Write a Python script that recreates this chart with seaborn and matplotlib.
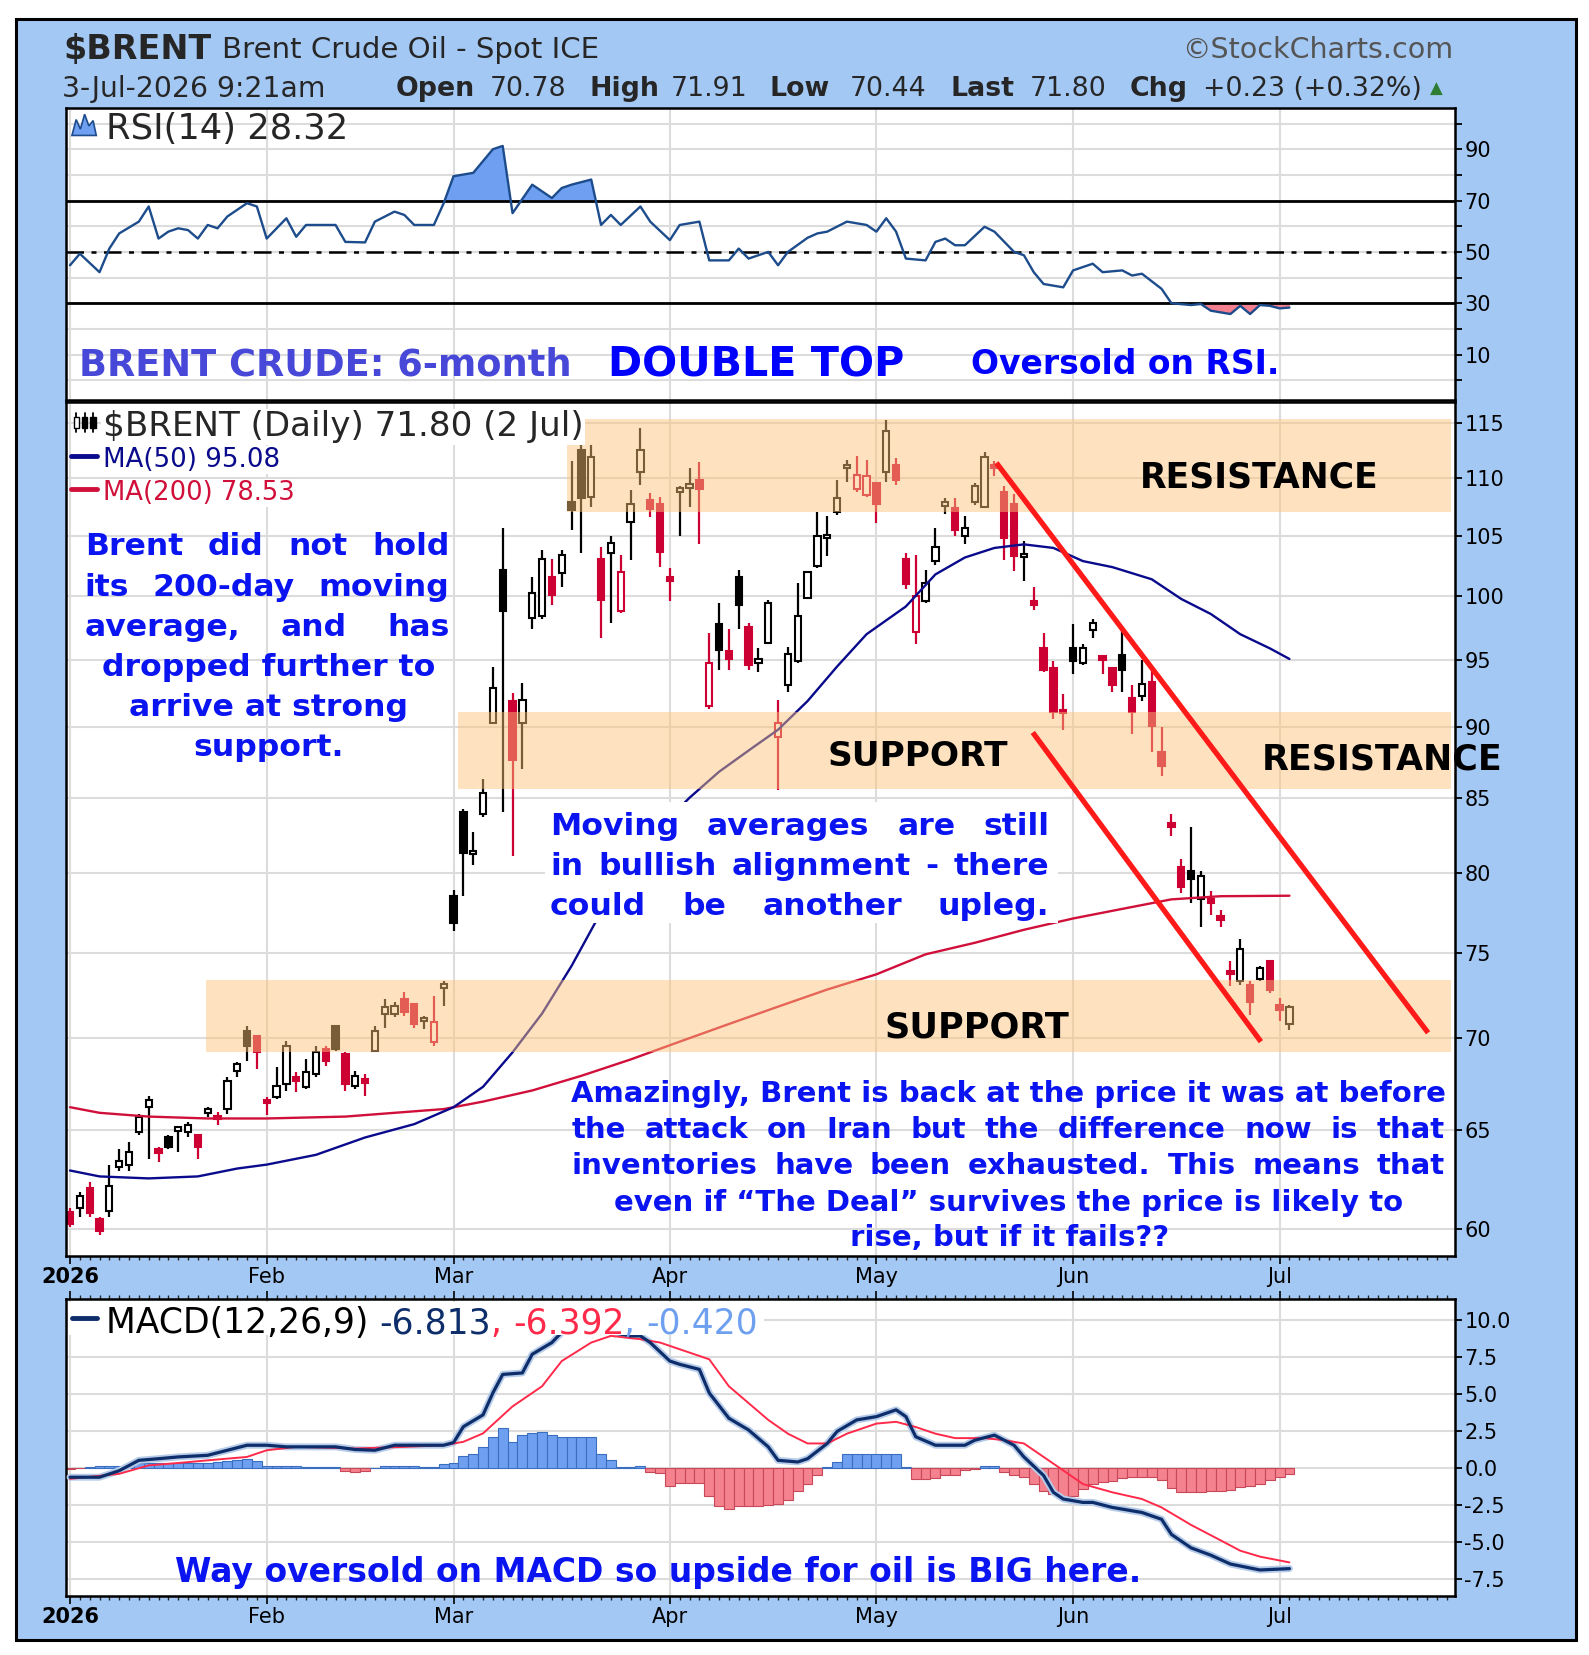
import numpy as np
import pandas as pd
import matplotlib
matplotlib.use("Agg")
import matplotlib.pyplot as plt
import seaborn as sns
from matplotlib.patches import Rectangle, Polygon
from matplotlib.lines import Line2D
from matplotlib.ticker import FixedLocator, FuncFormatter, NullLocator
from matplotlib.font_manager import FontProperties, findfont

# ============================ DATA ============================
month_labels = ["2026", "Feb", "Mar", "Apr", "May", "Jun", "Jul"]
month_start_idx = [0, 20, 39, 61, 82, 102, 123]   # trading-day index of month start

prev_close = 60.9   # close of the session before the first candle

open_px = [60.85, 61.0, 62.0, 60.5, 60.9, 63.07, 63.16, 64.88, 66.21, 63.95,
           64.62, 64.95, 64.88, 64.71, 65.88, 65.70, 66.12, 68.18, 70.41, 70.13,
           66.60, 66.74, 67.45, 67.81, 67.27, 67.99, 69.38, 70.70, 69.10, 67.36,
           67.72, 69.29, 71.37, 71.37, 72.24, 71.95, 70.95, 69.76, 72.90, 78.5,
           84.0, 81.2, 83.9, 90.3, 102.2, 91.9, 90.3, 98.3, 98.4, 101.6,
           101.9, 107.9, 112.6, 108.4, 103.1, 103.6, 98.8, 106.2, 110.6, 108.1,
           107.8, 101.6, 108.8, 109.2, 109.9, 91.5, 97.8, 95.7, 101.6, 97.6,
           94.8, 96.3, 89.3, 93.1, 94.9, 99.9, 102.5, 104.8, 107.1, 110.9,
           109.1, 108.5, 109.6, 110.6, 111.2, 103.1, 97.2, 99.6, 102.9, 107.6,
           107.4, 105.0, 107.9, 107.5, 111.2, 108.8, 107.8, 103.2, 99.6, 95.9,
           94.4, 91.2, 95.9, 94.8, 97.3, 95.1, 94.4, 95.4, 92.1, 92.3,
           93.3, 88.2, 83.2, 80.4, 80.1, 78.3, 78.3, 77.2, 73.9, 73.3,
           73.05, 73.45, 74.5, 71.9, 70.78]
high_px = [61.0, 61.8, 62.3, 60.6, 63.2, 64.0, 64.36, 65.85, 66.82, 64.1,
           64.71, 65.1, 65.41, 64.71, 66.21, 65.94, 67.81, 68.64, 70.70, 70.13,
           66.74, 68.36, 69.85, 68.09, 68.83, 69.57, 69.57, 70.70, 69.20, 68.18,
           67.99, 70.70, 72.24, 72.05, 72.64, 71.95, 71.28, 72.43, 73.31, 78.9,
           84.2, 82.7, 86.3, 94.5, 105.7, 92.5, 93.25, 101.6, 103.8, 103.1,
           103.8, 111.6, 113.1, 113.0, 104.1, 105.0, 103.4, 109.0, 114.6, 108.7,
           108.4, 102.3, 109.3, 110.9, 111.5, 97.1, 99.5, 97.4, 102.2, 97.9,
           95.9, 99.7, 92.0, 96.0, 101.1, 102.1, 107.1, 106.7, 109.9, 111.7,
           112.0, 111.7, 109.6, 115.3, 111.8, 103.6, 103.4, 102.2, 105.7, 108.3,
           108.3, 106.7, 109.6, 112.4, 111.6, 109.3, 108.6, 104.6, 100.8, 97.1,
           94.9, 92.4, 97.8, 96.2, 98.2, 95.4, 94.4, 97.3, 93.1, 95.0,
           94.2, 90.0, 83.9, 80.9, 83.0, 80.1, 78.8, 77.6, 74.5, 75.85,
           73.3, 74.2, 74.55, 72.3, 71.91]
low_px = [60.1, 60.6, 60.6, 59.7, 60.6, 62.9, 62.9, 64.71, 63.49, 63.33,
          64.01, 63.84, 64.62, 63.49, 65.68, 65.23, 65.85, 67.81, 68.73, 68.27,
          65.76, 66.65, 67.09, 67.01, 67.18, 67.81, 68.45, 69.29, 67.09, 67.18,
          66.82, 69.20, 70.60, 71.18, 71.28, 70.60, 70.51, 69.57, 71.85, 76.3,
          78.5, 80.5, 83.7, 90.2, 84.0, 81.1, 87.0, 97.4, 98.2, 99.3,
          100.8, 105.5, 103.6, 107.5, 96.7, 97.9, 98.7, 103.0, 109.4, 106.6,
          102.4, 99.6, 105.0, 107.5, 104.3, 91.3, 94.2, 94.2, 97.4, 94.2,
          94.1, 96.2, 85.5, 92.6, 94.8, 99.8, 102.3, 103.3, 106.8, 109.7,
          108.8, 108.4, 106.1, 109.7, 109.4, 100.6, 96.2, 99.5, 102.6, 106.9,
          105.0, 104.3, 107.7, 107.4, 110.2, 103.0, 102.1, 101.3, 98.9, 94.1,
          90.6, 89.8, 93.9, 94.6, 96.7, 93.9, 92.6, 92.6, 89.5, 91.9,
          88.2, 86.5, 82.4, 78.7, 78.1, 76.6, 77.3, 76.6, 73.0, 73.05,
          71.3, 73.3, 72.6, 71.0, 70.44]
close_px = [60.26, 61.6, 60.8, 59.9, 62.1, 63.41, 63.84, 65.68, 66.56, 63.8,
            64.10, 65.06, 65.23, 64.10, 65.94, 65.55, 67.63, 68.55, 69.57, 69.20,
            66.40, 67.36, 69.57, 67.63, 68.09, 69.20, 68.73, 69.38, 67.45, 67.90,
            67.50, 70.41, 71.76, 71.85, 71.47, 70.80, 71.08, 70.89, 73.05, 76.8,
            81.3, 81.4, 85.3, 92.9, 98.8, 87.6, 92.0, 100.3, 103.1, 100.1,
            103.4, 107.2, 108.3, 111.9, 99.7, 104.4, 102.0, 107.8, 112.6, 107.3,
            103.7, 101.3, 109.0, 109.5, 109.1, 94.8, 95.8, 95.1, 99.3, 94.6,
            95.0, 99.5, 90.3, 95.5, 98.4, 102.0, 105.0, 105.1, 108.3, 111.0,
            110.3, 110.2, 107.8, 114.3, 109.9, 101.0, 100.0, 101.1, 104.1, 107.8,
            105.5, 105.7, 109.3, 111.9, 110.9, 104.8, 103.3, 103.4, 99.3, 94.2,
            91.1, 91.0, 94.9, 95.9, 97.9, 95.0, 93.1, 94.2, 91.1, 93.2,
            90.1, 87.2, 83.0, 79.1, 79.6, 79.8, 78.1, 77.0, 73.7, 75.25,
            72.05, 74.1, 72.8, 71.6, 71.80]

ma50_idx = [0, 3, 8, 13, 17, 20, 25, 30, 35, 39, 42, 45, 48, 51, 54, 57, 60, 63, 66,
            69, 72, 75, 78, 81, 85, 88, 91, 94, 97, 100, 103, 106, 110, 113, 116, 119, 122, 124]
ma50_val = [62.9, 62.6, 62.5, 62.6, 63.0, 63.2, 63.7, 64.6, 65.3, 66.2, 67.3, 69.2, 71.4,
            74.2, 77.5, 80.5, 83.0, 85.0, 86.8, 88.3, 89.8, 91.9, 94.5, 97.0, 99.2, 101.8,
            103.2, 104.0, 104.3, 104.0, 102.9, 102.4, 101.4, 99.8, 98.6, 97.0, 95.9, 95.08]

ma200_idx = [0, 3, 8, 14, 20, 28, 33, 38, 42, 47, 52, 57, 62, 67, 72, 77, 82, 87, 92,
             97, 102, 107, 112, 117, 124]
ma200_val = [66.2, 65.9, 65.7, 65.6, 65.6, 65.7, 65.9, 66.1, 66.5, 67.1, 67.9, 68.8, 69.8,
             70.8, 71.8, 72.8, 73.7, 74.9, 75.6, 76.4, 77.1, 77.7, 78.3, 78.5, 78.53]

rsi_idx = [0, 1, 3, 4, 5, 7, 8, 9, 10, 11, 12, 13, 14, 15, 16, 18, 19, 20, 22, 23, 24,
           26, 27, 28, 30, 31, 33, 34, 35, 37, 38, 39, 41, 42, 43, 44, 45, 47, 48, 49,
           50, 51, 53, 54, 55, 56, 58, 59, 61, 62, 64, 65, 67, 68, 69, 71, 72, 73, 75,
           76, 77, 79, 81, 82, 83, 84, 85, 87, 88, 89, 90, 91, 93, 94, 96, 97, 98, 99,
           101, 102, 104, 105, 107, 108, 109, 111, 112, 114, 115, 116, 118, 119, 120,
           121, 122, 123, 124]
rsi_val = [44.8, 49.3, 42.1, 51.3, 57.2, 61.8, 67.7, 55.2, 57.9, 59.2, 58.5, 55.2, 60.5,
           59.2, 63.8, 69.0, 67.7, 55.2, 63.1, 55.9, 60.5, 60.5, 60.5, 53.9, 53.7, 61.8,
           65.7, 64.4, 60.5, 60.5, 69.0, 79.5, 80.8, 85.4, 90.0, 91.3, 65.1, 76.2, 73.6,
           71.0, 74.9, 76.2, 78.2, 60.5, 64.4, 60.5, 67.7, 61.8, 54.6, 60.5, 61.8, 46.7,
           46.7, 51.3, 47.4, 50.0, 44.8, 50.0, 55.5, 57.2, 57.9, 61.8, 60.5, 57.9, 63.1,
           57.9, 47.4, 46.7, 53.9, 55.2, 52.6, 52.6, 59.8, 57.9, 50.0, 48.7, 42.1, 37.5,
           36.2, 42.8, 45.4, 42.1, 42.8, 40.8, 41.5, 35.6, 30.0, 29.3, 29.7, 27.1, 25.8,
           29.0, 25.8, 29.3, 29.0, 28.0, 28.32]

macd_idx = [0, 3, 5, 7, 9, 11, 14, 16, 18, 20, 22, 24, 27, 29, 31, 33, 35, 38, 39, 40,
            42, 43, 44, 46, 47, 49, 50, 52, 54, 55, 57, 58, 59, 61, 62, 64, 65, 67, 69,
            71, 72, 74, 75, 77, 78, 80, 82, 84, 85, 86, 88, 91, 92, 94, 96, 97, 99, 100,
            101, 103, 104, 106, 109, 111, 112, 114, 116, 118, 121, 124]
macd_val = [-0.64, -0.64, -0.2, 0.5, 0.61, 0.73, 0.84, 1.18, 1.52, 1.52, 1.41, 1.41, 1.41,
            1.23, 1.18, 1.52, 1.52, 1.52, 1.7, 2.77, 3.57, 5.05, 6.3, 6.4, 7.66, 8.45, 9.14,
            9.8, 9.5, 9.14, 8.9, 8.9, 8.45, 7.2, 6.98, 6.64, 5.05, 3.34, 2.55, 1.41, 0.5,
            0.39, 0.61, 1.64, 2.45, 3.23, 3.45, 3.91, 3.45, 2.09, 1.52, 1.52, 1.86, 2.2,
            1.52, 0.73, -0.52, -1.66, -2.11, -2.34, -2.34, -2.68, -3.02, -3.48, -4.5, -5.41,
            -5.9, -6.5, -6.9, -6.81]

signal_idx = [0, 5, 8, 11, 14, 18, 20, 23, 29, 34, 38, 40, 42, 45, 48, 50, 53, 55, 58,
              60, 65, 67, 71, 73, 75, 77, 79, 82, 84, 86, 88, 90, 93, 95, 97, 99, 101,
              103, 106, 109, 111, 114, 117, 119, 121, 124]
signal_val = [-0.75, -0.41, 0.16, 0.32, 0.5, 0.73, 1.18, 1.41, 1.3, 1.41, 1.52, 1.75, 2.32,
              4.14, 5.5, 7.2, 8.45, 8.9, 8.68, 8.45, 7.32, 5.5, 3.23, 2.3, 1.64, 1.64, 2.3,
              2.98, 3.1, 2.75, 2.3, 2.0, 2.0, 1.86, 1.64, 0.73, -0.18, -1.1, -1.66, -2.11,
              -2.68, -3.86, -4.9, -5.6, -6.0, -6.39]

hist_val = [-0.10, -0.05, 0.05, 0.10, 0.10, 0.15, 0.25, 0.30, 0.35, 0.30,
            0.30, 0.30, 0.35, 0.30, 0.35, 0.40, 0.45, 0.55, 0.60, 0.45,
            0.15, 0.15, 0.15, 0.15, 0.02, 0.02, 0.02, 0.02, -0.20, -0.30,
            -0.25, 0.00, 0.10, 0.15, 0.15, 0.10, 0.02, 0.02, 0.25, 0.30,
            0.80, 0.90, 1.40, 2.10, 2.66, 1.75, 2.20, 2.32, 2.43, 2.20,
            2.05, 2.05, 2.05, 2.05, 0.95, 0.50, 0.02, 0.05, 0.15, -0.30,
            -0.35, -1.20, -1.00, -1.00, -1.00, -1.90, -2.57, -2.80, -2.60, -2.57,
            -2.57, -2.50, -2.45, -2.20, -1.55, -1.10, -0.52, 0.02, 0.39, 0.90,
            0.95, 0.95, 0.95, 0.95, 0.90, 0.02, -0.75, -0.75, -0.70, -0.52,
            -0.50, -0.18, -0.10, 0.15, 0.15, -0.30, -0.50, -0.64, -1.10, -1.60,
            -1.77, -1.89, -1.89, -1.43, -1.10, -0.98, -0.90, -0.70, -0.64, -0.64,
            -0.64, -0.80, -1.40, -1.66, -1.66, -1.66, -1.60, -1.55, -1.50, -1.30,
            -1.20, -1.10, -0.80, -0.60, -0.42]

# support / resistance zones: (x start, x end, low price, high price)
zone_x0 = [50.5, 39.5, 13.8]
zone_x1 = [140.4, 140.4, 140.4]
zone_lo = [107.1, 85.6, 69.2]
zone_hi = [115.4, 91.1, 73.35]

# falling channel lines: (idx, price) endpoints
chan_upper_idx = [94.2, 138.1]
chan_upper_px = [111.4, 70.3]
chan_lower_idx = [97.9, 121.1]
chan_lower_px = [89.6, 69.8]

# ============================ STYLE ============================
sns.set_theme(style="white")


def _has(name):
    try:
        findfont(FontProperties(family=name), fallback_to_default=False)
        return True
    except Exception:
        return False


NARROW = "Liberation Sans Narrow" if _has("Liberation Sans Narrow") else "DejaVu Sans"
WIDE = "DejaVu Sans"
plt.rcParams["font.family"] = [NARROW, "DejaVu Sans"]
TICK_FS = 19 if NARROW != "DejaVu Sans" else 15

PW, PH = 1502.0, 1564.0          # reference layout units
W_PX, H_PX = 1589, 1655
fig = plt.figure(figsize=(W_PX / 100, H_PX / 100), dpi=100, facecolor="white")
renderer = fig.canvas.get_renderer()


def fx(x):
    return x / PW


def fy(y):
    return 1.0 - y / PH


fig.add_artist(Rectangle((fx(15), fy(1550)), fx(1490) - fx(15), fy(18) - fy(1550),
                         transform=fig.transFigure, facecolor="#a4c8f4",
                         edgecolor="black", lw=2.2, zorder=-5))


def add_ax(top, bottom, **kw):
    return fig.add_axes([fx(62), fy(bottom), fx(1375) - fx(62), fy(top) - fy(bottom)], **kw)


ax_r = add_ax(102, 378)
ax_p = add_ax(380, 1187, sharex=ax_r)
ax_m = add_ax(1228, 1508, sharex=ax_r)

for ax in (ax_r, ax_p, ax_m):
    ax.set_facecolor("white")
    for s in ax.spines.values():
        s.set_visible(True)
        s.set_color("black")
        s.set_linewidth(1.8)
    ax.set_axisbelow(True)
    ax.grid(True, which="major", color="#dcdcdc", lw=1.5)
    ax.yaxis.tick_right()
    ax.tick_params(axis="y", which="both", right=True, left=False, labelright=True,
                   labelleft=False, direction="out", length=5, width=1.3, pad=2,
                   labelsize=TICK_FS, colors="black")

# ---------------- RSI ----------------
rx = np.array(rsi_idx, float)
ry = np.array(rsi_val, float)
ax_r.fill_between(rx, ry, 70, where=ry >= 70, interpolate=True, color="#6e9ff0", lw=0, zorder=2)
ax_r.fill_between(rx, ry, 30, where=ry <= 30, interpolate=True, color="#f4808f", lw=0, zorder=2)
ax_r.axhline(70, color="black", lw=2.0, zorder=3)
ax_r.axhline(30, color="black", lw=2.0, zorder=3)
ax_r.axhline(50, color="black", lw=1.8, ls=(0, (7, 3, 2, 3)), zorder=3)
sns.lineplot(x=rx, y=ry, ax=ax_r, color="#1d4c8c", lw=1.7, sort=False, legend=False, zorder=4)
ax_r.set_ylim(-7.7, 106.1)
ax_r.yaxis.set_major_locator(FixedLocator(list(range(0, 101, 10))))
ax_r.yaxis.set_major_formatter(FuncFormatter(lambda v, p: f"{v:.0f}" if int(round(v)) in (10, 30, 50, 70, 90) else ""))

# ---------------- price ----------------
df = pd.DataFrame({"idx": np.arange(len(close_px)), "open": open_px, "high": high_px,
                   "low": low_px, "close": close_px})
prev = np.r_[prev_close, df["close"].values[:-1]]
col = np.where(df["close"].values >= prev, "#000000", "#cc0033")
hollow = df["close"].values > df["open"].values
lo = np.minimum(df["open"].values, df["close"].values)
hi = np.maximum(df["open"].values, df["close"].values)
hgt = np.maximum(hi - lo, lo * 0.003)
ax_p.vlines(df["idx"], df["low"], df["high"], colors=col, lw=1.6, zorder=2)
ax_p.bar(df["idx"], hgt, bottom=lo, width=0.64, color=np.where(hollow, "white", col),
         edgecolor=col, linewidth=1.5, zorder=2.5)

sns.lineplot(x=ma200_idx, y=ma200_val, ax=ax_p, color="#d0103a", lw=1.7, sort=False, legend=False, zorder=2.7)
sns.lineplot(x=ma50_idx, y=ma50_val, ax=ax_p, color="#0a0a8c", lw=1.7, sort=False, legend=False, zorder=2.7)

for x0, x1, y0, y1 in zip(zone_x0, zone_x1, zone_lo, zone_hi):
    ax_p.add_patch(Rectangle((x0, y0), x1 - x0, y1 - y0, facecolor="#fec479", alpha=0.48,
                             edgecolor="none", zorder=3))

ax_p.plot(chan_upper_idx, chan_upper_px, color="#ff1a1a", lw=3.8, zorder=5, solid_capstyle="butt")
ax_p.plot(chan_lower_idx, chan_lower_px, color="#ff1a1a", lw=3.8, zorder=5, solid_capstyle="butt")

ax_p.set_yscale("log")
ax_p.set_ylim(58.7, 117.0)
ax_p.yaxis.set_major_locator(FixedLocator(list(range(60, 116, 5))))
ax_p.yaxis.set_major_formatter(FuncFormatter(lambda v, p: f"{v:.0f}"))
ax_p.yaxis.set_minor_locator(NullLocator())

# ---------------- MACD ----------------
hv = np.array(hist_val)
ax_m.bar(np.arange(len(hv)), hv, width=1.0,
         color=np.where(hv >= 0, "#6f9ff0", "#f5828f"),
         edgecolor=np.where(hv >= 0, "#3a6fc0", "#c8485a"), linewidth=0.8, zorder=2)
ax_m.plot(macd_idx, macd_val, color="#b7cce8", lw=5, zorder=3, solid_capstyle="round")
sns.lineplot(x=signal_idx, y=signal_val, ax=ax_m, color="#ff2a4a", lw=1.4, sort=False, legend=False, zorder=3.5)
sns.lineplot(x=macd_idx, y=macd_val, ax=ax_m, color="#0d2d6b", lw=2.3, sort=False, legend=False, zorder=4)
ax_m.set_ylim(-8.64, 11.36)
ax_m.yaxis.set_major_locator(FixedLocator([-7.5, -5, -2.5, 0, 2.5, 5, 7.5, 10]))
ax_m.yaxis.set_major_formatter(FuncFormatter(lambda v, p: f"{v:.1f}"))

# ---------------- x axis ----------------
for ax in (ax_r, ax_p, ax_m):
    ax.set_xlabel("")
    ax.set_ylabel("")
ax_r.set_xlim(-0.45, 140.8)
ax_r.xaxis.set_major_locator(FixedLocator(month_start_idx))
ax_r.xaxis.set_major_formatter(FuncFormatter(
    lambda v, p: month_labels[month_start_idx.index(int(round(v)))] if int(round(v)) in month_start_idx else ""))
ax_r.xaxis.set_minor_locator(FixedLocator(list(range(0, 141))))
ax_r.tick_params(axis="x", which="both", bottom=False, top=False, labelbottom=False)
ax_p.tick_params(axis="x", which="major", bottom=True, top=False, labelbottom=True,
                 direction="out", length=6, width=1.2, pad=2, labelsize=TICK_FS, colors="black")
ax_p.tick_params(axis="x", which="minor", bottom=True, top=False, direction="out", length=3, width=1)
ax_m.tick_params(axis="x", which="major", bottom=True, top=True, labelbottom=True, labeltop=False,
                 direction="out", length=6, width=1.2, pad=2, labelsize=TICK_FS, colors="black")
ax_m.tick_params(axis="x", which="minor", bottom=True, top=True, direction="out", length=3, width=1)
for ax in (ax_p, ax_m):
    ax.xaxis.get_major_ticks()[0].label1.set_fontweight("bold")

# ============================ TEXT ============================
BLUE = "#0a14f0"


def measure(s, size, **kw):
    t = fig.text(0, 0, s, fontsize=size, **kw)
    w = t.get_window_extent(renderer).width
    t.remove()
    return w / W_PX * PW


def fit_size(s, width, base=20, **kw):
    return base * width / measure(s, base, **kw)


def put(s, x, y, width=None, size=20, ha="left", zorder=6, **kw):
    if width is not None:
        size = fit_size(s, width, size, **kw)
    return fig.text(fx(x), fy(y), s, fontsize=size, ha=ha, va="center_baseline", zorder=zorder, **kw)


def justify(s, x0, x1, y, size, **kw):
    words = s.split()
    ws = [measure(w, size, **kw) for w in words]
    sp = measure("a a", size, **kw) - measure("aa", size, **kw)
    if sum(ws) + sp * (len(words) - 1) > (x1 - x0):
        size = size * (x1 - x0) / (sum(ws) + sp * (len(words) - 1))
        ws = [measure(w, size, **kw) for w in words]
    gap = (x1 - x0 - sum(ws)) / max(len(words) - 1, 1)
    x = x0
    for w, wd in zip(words, ws):
        fig.text(fx(x), fy(y), w, fontsize=size, ha="left", va="center_baseline", zorder=6, **kw)
        x += wd + gap


# title rows
put("$BRENT", 60, 43, width=140, size=26, weight="bold")
put("Brent Crude Oil - Spot ICE", 210, 44, width=357, size=20)
put("\u00a9StockCharts.com", 1117, 44, width=256, size=20, color="#555555")
put("3-Jul-2026 9:21am", 59, 81, width=249, size=18)
row_fs = fit_size("+0.23 (+0.32%)", 207, 18)
for s, x0, wt in [("Open", 374, "bold"), ("70.78", 463, "normal"), ("High", 557, "bold"),
                  ("71.91", 634, "normal"), ("Low", 727, "bold"), ("70.44", 803, "normal"),
                  ("Last", 898, "bold"), ("71.80", 973, "normal"), ("Chg", 1068, "bold"),
                  ("+0.23 (+0.32%)", 1137, "normal")]:
    put(s, x0, 81, size=row_fs, weight=wt)
put("\u25b2", 1352, 82, size=12, color="#2e7d32", family="DejaVu Sans")

# RSI legend
fig.add_artist(Polygon([(fx(68), fy(128)), (fx(72), fy(113)), (fx(76), fy(122)), (fx(80), fy(108)),
                        (fx(84), fy(119)), (fx(88), fy(114)), (fx(91), fy(128))],
                       closed=True, transform=fig.transFigure, facecolor="#6e9ff0",
                       edgecolor="#1d4c8c", lw=1.2, zorder=5))
put("RSI(14) 28.32", 100, 119, width=228, size=17, family=WIDE)

# price legend
white_bb = dict(facecolor="white", edgecolor="none", pad=1.0)
for cx, filled in [(72, False), (80, True), (88, True)]:
    fig.add_artist(Line2D([fx(cx), fx(cx)], [fy(408), fy(390)], transform=fig.transFigure,
                          color="black", lw=1.3, zorder=6))
    fig.add_artist(Rectangle((fx(cx - 2.5), fy(404)), fx(5), fy(394) - fy(404), transform=fig.transFigure,
                             facecolor="black" if filled else "white", edgecolor="black", lw=1.0, zorder=7))
put("$BRENT (Daily) 71.80 (2 Jul)", 97, 400, width=455, size=17, family=WIDE, bbox=white_bb)
fig.add_artist(Line2D([fx(67), fx(92)], [fy(431), fy(431)], transform=fig.transFigure,
                      color="#0a0a8c", lw=3.5, zorder=6))
put("MA(50) 95.08", 97, 432, width=168, size=17, family=WIDE, color="#0a0a8c", bbox=white_bb)
fig.add_artist(Line2D([fx(67), fx(92)], [fy(462), fy(462)], transform=fig.transFigure,
                      color="#d0103a", lw=3.5, zorder=6))
put("MA(200) 78.53", 97, 463, width=181, size=17, family=WIDE, color="#d0103a", bbox=white_bb)

# MACD legend: pieces placed one after another
macd_pieces = [("MACD(12,26,9) ", "black"), ("-6.813", "#0d2d6b"), (", ", "#ff2a4a"),
               ("-6.392", "#ff2a4a"), (", ", "#6fa0f0"), ("-0.420", "#6fa0f0")]
mfs = fit_size("".join(p for p, _ in macd_pieces), 615, 17, family=WIDE)
cur = 100.0
for piece, c in macd_pieces:
    put(piece, cur, 1247, size=mfs, family=WIDE, color=c)
    cur += measure(piece, mfs, family=WIDE)
fig.add_artist(Rectangle((fx(64), fy(1262)), fx(cur + 6) - fx(64), fy(1230) - fy(1262),
                         transform=fig.transFigure, facecolor="white", edgecolor="none", zorder=1))
fig.add_artist(Line2D([fx(68), fx(92)], [fy(1246), fy(1246)], transform=fig.transFigure,
                      color="#0d2d6b", lw=3.5, zorder=6))

# RSI panel headline
put("BRENT CRUDE: 6-month", 75, 341, width=466, size=24, weight="bold", family=WIDE, color="#4848d8")
put("DOUBLE TOP", 575, 341, width=280, size=28, weight="bold", family=WIDE, color="#0000ff")
put("Oversold on RSI.", 918, 341, width=292, size=24, weight="bold", color="#0000ff")

# left block
lfs = fit_size("dropped further to", 315, 20, weight="bold", family=WIDE)
justify("Brent did not hold", 80, 425, 514, lfs, weight="bold", family=WIDE, color=BLUE)
justify("its 200-day moving", 80, 425, 552, lfs, weight="bold", family=WIDE, color=BLUE)
justify("average, and has", 80, 425, 590, lfs, weight="bold", family=WIDE, color=BLUE)
put("dropped further to", 254, 628, size=lfs, ha="center", weight="bold", family=WIDE, color=BLUE)
put("arrive at strong", 254, 666, size=lfs, ha="center", weight="bold", family=WIDE, color=BLUE)
put("support.", 254, 704, size=lfs, ha="center", weight="bold", family=WIDE, color=BLUE)

# moving averages block (white backing hides MA line as in source)
fig.add_artist(Rectangle((fx(515), fy(872)), fx(1000) - fx(515), fy(758) - fy(872),
                         transform=fig.transFigure, facecolor="white", edgecolor="none", zorder=1))
justify("Moving averages are still", 520, 992, 778, lfs, weight="bold", family=WIDE, color=BLUE)
justify("in bullish alignment - there", 520, 992, 816, lfs, weight="bold", family=WIDE, color=BLUE)
justify("could be another upleg.", 520, 992, 854, lfs, weight="bold", family=WIDE, color=BLUE)

# bottom paragraph
bfs = fit_size("Amazingly, Brent is back at the price it was at before", 828, 20, weight="bold")
put("Amazingly, Brent is back at the price it was at before", 540, 1031, size=bfs, weight="bold", color=BLUE)
justify("the attack on Iran but the difference now is that", 540, 1366, 1065, bfs, weight="bold", color=BLUE)
justify("inventories have been exhausted. This means that", 540, 1366, 1099, bfs, weight="bold", color=BLUE)
put("even if \u201cThe Deal\u201d survives the price is likely to", 953, 1134, size=bfs, ha="center",
    weight="bold", color=BLUE)
put("rise, but if it fails??", 954, 1167, size=bfs, ha="center", weight="bold", color=BLUE)

# MACD note
put("Way oversold on MACD so upside for oil is BIG here.", 165, 1483, width=910, size=22,
    weight="bold", color=BLUE)

# zone labels
put("RESISTANCE", 1077, 448, width=225, size=22, weight="bold", family=WIDE, color="black")
put("SUPPORT", 782, 712, width=170, size=22, weight="bold", family=WIDE, color="black")
put("RESISTANCE", 1193, 714, width=227, size=22, weight="bold", family=WIDE, color="black")
put("SUPPORT", 836, 968, width=174, size=22, weight="bold", family=WIDE, color="black")

fig.savefig("out.png", dpi=100, facecolor="white")
